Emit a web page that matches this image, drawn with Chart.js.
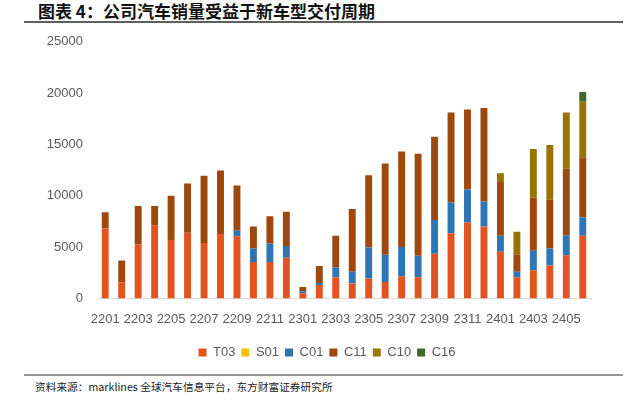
<!DOCTYPE html>
<html lang="zh">
<head>
  <meta charset="UTF-8">
  <title>公司汽车销量受益于新车型交付周期</title>
  <script src="https://cdn.jsdelivr.net/npm/chart.js"></script>
  <style>
    html, body {
      margin: 0;
      padding: 0;
      background: #fff;
      width: 628px;
      height: 401px;
      overflow: hidden;
    }
    .title {
      position: absolute;
      left: 38px;
      top: 1px;
      font-family: "Noto Sans CJK SC", sans-serif;
      font-weight: bold;
      font-size: 17px;
      line-height: 20px;
      color: #111;
      white-space: nowrap;
    }
    .rule-top {
      position: absolute;
      left: 24px;
      width: 599px;
      top: 21px;
      height: 2px;
      background: #5f5f5f;
    }
    .rule-bottom {
      position: absolute;
      left: 24px;
      width: 599px;
      top: 374px;
      height: 1.5px;
      background: #969696;
    }
    .source {
      position: absolute;
      left: 35px;
      top: 379px;
      font-family: "Noto Sans CJK SC", sans-serif;
      font-size: 10.7px;
      line-height: 16px;
      color: #222;
      white-space: nowrap;
    }
    .chart-box {
      position: absolute;
      left: 26px;
      top: 20px;
      width: 602px;
      height: 351px;
    }
  </style>
</head>
<body>
  <div class="title">图表&nbsp;4：公司汽车销量受益于新车型交付周期</div>
  <div class="rule-top"></div>

  <div class="chart-box"><canvas id="salesChart"></canvas></div>

  <div class="rule-bottom"></div>
  <div class="source">资料来源：marklines 全球汽车信息平台，东方财富证券研究所</div>

  <script>
    // months (yymm)
    const months = [
      '2201', '2202', '2203', '2204', '2205', '2206', '2207', '2208', '2209', '2210', '2211', '2212',
      '2301', '2302', '2303', '2304', '2305', '2306', '2307', '2308', '2309', '2310', '2311', '2312',
      '2401', '2402', '2403', '2404', '2405', '2406'
    ];

    // monthly sales by model
    const t03 = [6800, 1550, 5250, 7100, 5700, 6400, 5400, 6200, 6050, 3550, 3550, 3950,
                 500, 1300, 2050, 1450, 1950, 1600, 2150, 2050, 4350, 6350, 7400, 7000,
                 4550, 2050, 2750, 3200, 4200, 6100];
    const s01 = [0, 0, 0, 0, 0, 0, 0, 0, 0, 0, 0, 0,
                 0, 0, 0, 0, 0, 0, 0, 0, 0, 0, 0, 0,
                 0, 0, 0, 0, 0, 0];
    const c01 = [0, 0, 0, 0, 0, 0, 0, 0, 550, 1300, 1800, 1150,
                 200, 200, 950, 1150, 3000, 2650, 2850, 2100, 3300, 3000, 3200, 2450,
                 1550, 550, 1900, 1650, 1950, 1800];
    const c11 = [1600, 2150, 3750, 1900, 4300, 4800, 6550, 6250, 4400, 2150, 2650, 3350,
                 400, 1650, 3100, 6100, 7050, 8900, 9300, 9950, 8100, 8750, 7800, 9100,
                 5250, 1650, 5150, 4750, 6500, 5850];
    const c10 = [0, 0, 0, 0, 0, 0, 0, 0, 0, 0, 0, 0,
                 0, 0, 0, 0, 0, 0, 0, 0, 0, 0, 0, 0,
                 850, 2250, 4750, 5350, 5450, 5400];
    const c16 = [0, 0, 0, 0, 0, 0, 0, 0, 0, 0, 0, 0,
                 0, 0, 0, 0, 0, 0, 0, 0, 0, 0, 0, 0,
                 0, 0, 0, 0, 0, 950];

    const yTicks = [0, 5000, 10000, 15000, 20000, 25000];

    const series = [
      { label: 'T03', data: t03, color: '#E2531F' },
      { label: 'S01', data: s01, color: '#FFC000' },
      { label: 'C01', data: c01, color: '#2E75B6' },
      { label: 'C11', data: c11, color: '#9E480E' },
      { label: 'C10', data: c10, color: '#997300' },
      { label: 'C16', data: c16, color: '#43682B' }
    ];

    const tickColor = '#595959';
    const tickFont = { family: "'Liberation Sans', Arial, sans-serif", size: 13 };

    const ctx = document.getElementById('salesChart').getContext('2d');
    new Chart(ctx, {
      type: 'bar',
      data: {
        labels: months,
        datasets: series.map(function (s) {
          return {
            label: s.label,
            data: s.data,
            backgroundColor: s.color,
            borderWidth: 0,
            barPercentage: 0.42,
            categoryPercentage: 1
          };
        })
      },
      options: {
        responsive: true,
        maintainAspectRatio: false,
        animation: false,
        layout: { padding: { top: 0, right: 0, left: 0, bottom: 2 } },
        plugins: {
          tooltip: { enabled: false },
          legend: {
            position: 'bottom',
            labels: {
              boxWidth: 8,
              boxHeight: 8,
              padding: 6,
              color: tickColor,
              font: tickFont
            }
          }
        },
        scales: {
          x: {
            stacked: true,
            grid: { display: false, drawTicks: false },
            border: { display: true, color: '#d9d9d9', width: 1 },
            ticks: {
              autoSkip: false,
              maxRotation: 0,
              padding: 13,
              color: tickColor,
              font: tickFont,
              callback: function (value, index) {
                return index % 2 === 0 ? months[index] : '';
              }
            }
          },
          y: {
            stacked: true,
            min: yTicks[0],
            max: yTicks[yTicks.length - 1],
            grid: { display: false, drawTicks: false },
            border: { display: false },
            afterBuildTicks: function (axis) {
              axis.ticks = yTicks.map(function (v) { return { value: v }; });
            },
            afterFit: function (axis) {
              axis.width = 71;
            },
            ticks: {
              padding: 14,
              color: tickColor,
              font: tickFont,
              callback: function (value) {
                return String(value);
              }
            }
          },
          // empty right-hand spacer so the legend centres on the whole canvas
          spacer: {
            type: 'linear',
            position: 'right',
            grid: { display: false, drawTicks: false },
            border: { display: false },
            ticks: { display: false },
            afterFit: function (axis) {
              axis.width = 37;
            }
          }
        }
      }
    });
  </script>
</body>
</html>
